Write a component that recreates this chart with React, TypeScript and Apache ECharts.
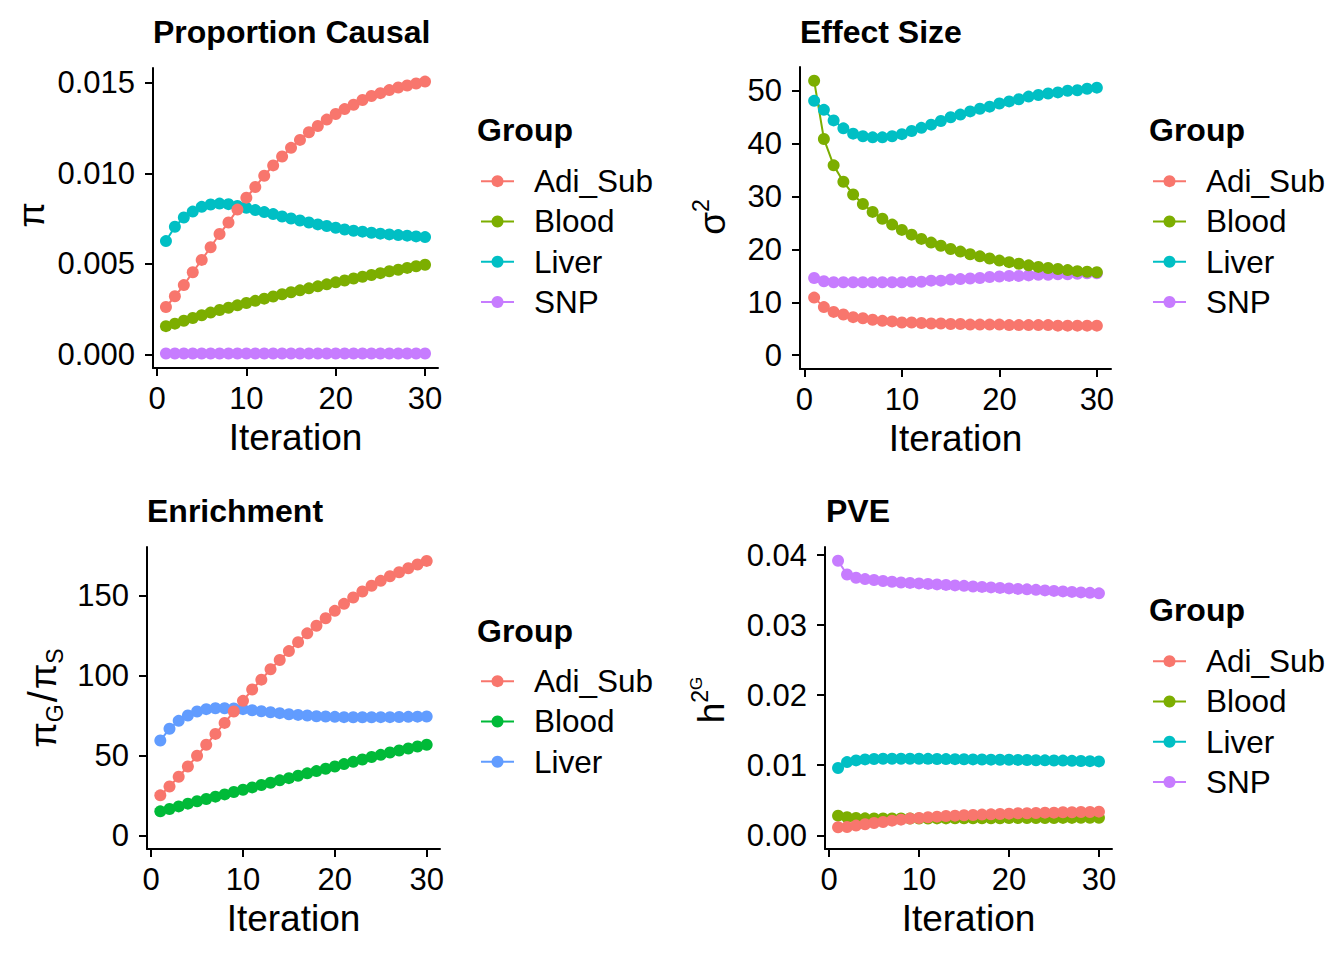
import React, { useEffect, useRef } from "react";
import * as echarts from "echarts";

const FONT = "'Liberation Sans', Arial, Helvetica, sans-serif";

// ---------- data ----------
const iterations = [1, 2, 3, 4, 5, 6, 7, 8, 9, 10, 11, 12, 13, 14, 15, 16, 17, 18, 19, 20, 21, 22, 23, 24, 25, 26, 27, 28, 29, 30];
const xTicks = [0, 10, 20, 30];

const groups4 = ["Adi_Sub", "Blood", "Liver", "SNP"];
const groups3 = ["Adi_Sub", "Blood", "Liver"];
const colors4 = ["#F8766D", "#7CAE00", "#00BFC4", "#C77CFF"];
const colors3 = ["#F8766D", "#00BA38", "#619CFF"];

// Proportion Causal (pi)
const pcTicks = [0, 0.005, 0.01, 0.015];
const pcAdi = [0.00262, 0.00321, 0.00383, 0.00454, 0.00522, 0.00592, 0.00665, 0.00729, 0.008, 0.00866, 0.00925, 0.00987, 0.01044, 0.01093, 0.01141, 0.01185, 0.01227, 0.01262, 0.01297, 0.01328, 0.01355, 0.01379, 0.01405, 0.01427, 0.01443, 0.0146, 0.01474, 0.01485, 0.01496, 0.01507];
const pcBlood = [0.00156, 0.0017, 0.00186, 0.00201, 0.00216, 0.00231, 0.00245, 0.00258, 0.00271, 0.00284, 0.00296, 0.00308, 0.0032, 0.00332, 0.00343, 0.00354, 0.00365, 0.00376, 0.00387, 0.00398, 0.00408, 0.00419, 0.00429, 0.00439, 0.00449, 0.00459, 0.00468, 0.00478, 0.00487, 0.00495];
const pcLiver = [0.00626, 0.00705, 0.00756, 0.00789, 0.00815, 0.00828, 0.00833, 0.0083, 0.0082, 0.0081, 0.00797, 0.00786, 0.00775, 0.00762, 0.00751, 0.0074, 0.00729, 0.00718, 0.00709, 0.007, 0.0069, 0.00683, 0.00678, 0.00672, 0.00667, 0.00663, 0.00659, 0.00656, 0.00652, 0.00648];
const pcSNP = [0.00005, 0.00005, 0.00005, 0.00005, 0.00005, 0.00005, 0.00005, 0.00005, 0.00005, 0.00005, 0.00005, 0.00005, 0.00005, 0.00005, 0.00005, 0.00005, 0.00005, 0.00005, 0.00005, 0.00005, 0.00005, 0.00005, 0.00005, 0.00005, 0.00005, 0.00005, 0.00005, 0.00005, 0.00005, 0.00005];

// Effect Size (sigma^2)
const esTicks = [0, 10, 20, 30, 40, 50];
const esAdi = [10.9, 9.1, 8.2, 7.7, 7.2, 7.0, 6.7, 6.5, 6.4, 6.2, 6.2, 6.1, 6.0, 6.0, 5.9, 5.9, 5.8, 5.8, 5.8, 5.8, 5.7, 5.7, 5.7, 5.7, 5.7, 5.6, 5.6, 5.6, 5.6, 5.6];
const esBlood = [51.9, 40.9, 35.9, 32.8, 30.4, 28.6, 27.1, 25.8, 24.7, 23.7, 22.8, 22.0, 21.3, 20.7, 20.1, 19.6, 19.1, 18.7, 18.3, 17.9, 17.6, 17.3, 17.0, 16.7, 16.5, 16.3, 16.1, 15.9, 15.8, 15.7];
const esLiver = [48.1, 46.4, 44.4, 42.9, 41.9, 41.4, 41.2, 41.2, 41.4, 41.8, 42.4, 43.0, 43.6, 44.3, 45.0, 45.5, 46.1, 46.6, 47.0, 47.6, 48.0, 48.4, 48.9, 49.2, 49.5, 49.7, 50.0, 50.1, 50.4, 50.6];
const esSNP = [14.6, 14.0, 13.8, 13.8, 13.8, 13.8, 13.8, 13.8, 13.8, 13.8, 13.9, 13.9, 14.1, 14.1, 14.3, 14.4, 14.5, 14.6, 14.8, 14.9, 15.0, 15.0, 15.1, 15.2, 15.2, 15.3, 15.3, 15.4, 15.5, 15.5];

// Enrichment (pi_G / pi_S)
const enTicks = [0, 50, 100, 150];
const enAdi = [25.0, 30.6, 36.7, 43.1, 49.8, 56.7, 63.5, 70.4, 77.5, 84.2, 91.3, 97.5, 104.0, 109.8, 115.4, 121.0, 126.5, 131.3, 136.0, 140.6, 145.0, 149.0, 152.7, 156.3, 159.4, 162.3, 164.8, 167.3, 169.6, 171.9];
const enBlood = [15.0, 16.5, 18.1, 19.8, 21.3, 22.7, 24.2, 25.6, 27.1, 28.5, 30.0, 31.5, 32.9, 34.4, 35.8, 37.3, 38.8, 40.2, 41.7, 43.1, 44.6, 46.0, 47.5, 49.0, 50.4, 51.9, 53.1, 54.4, 55.6, 56.7];
const enLiver = [59.4, 66.7, 71.7, 75.0, 77.5, 79.0, 79.6, 79.6, 79.4, 79.0, 78.3, 77.7, 77.1, 76.5, 75.8, 75.4, 75.0, 74.6, 74.4, 74.2, 74.0, 73.9, 73.9, 73.9, 74.0, 74.0, 74.1, 74.2, 74.3, 74.4];

// PVE (h^2G)
const pveTicks = [0, 0.01, 0.02, 0.03, 0.04];
const pveAdi = [0.00114, 0.00119, 0.00138, 0.00157, 0.00176, 0.0019, 0.00209, 0.00223, 0.00238, 0.00247, 0.00257, 0.00266, 0.00276, 0.0028, 0.00285, 0.0029, 0.00295, 0.00299, 0.00304, 0.00309, 0.00314, 0.00314, 0.00318, 0.00323, 0.00323, 0.00328, 0.00328, 0.00333, 0.00333, 0.00337];
const pveBlood = [0.0028, 0.00257, 0.00247, 0.00242, 0.0024, 0.0024, 0.0024, 0.0024, 0.0024, 0.0024, 0.0024, 0.00241, 0.00241, 0.00242, 0.00242, 0.00243, 0.00243, 0.00244, 0.00244, 0.00245, 0.00245, 0.00246, 0.00246, 0.00247, 0.00247, 0.00248, 0.00248, 0.00249, 0.00249, 0.0025];
const pveLiver = [0.0096, 0.01045, 0.01069, 0.01083, 0.0109, 0.01093, 0.01093, 0.01093, 0.01093, 0.01092, 0.01091, 0.0109, 0.01088, 0.01087, 0.01085, 0.01083, 0.01081, 0.0108, 0.01079, 0.01078, 0.01076, 0.01074, 0.01072, 0.0107, 0.01068, 0.01066, 0.01063, 0.01061, 0.01058, 0.01055];
const pveSNP = [0.0392, 0.03724, 0.03677, 0.03658, 0.03644, 0.0363, 0.0362, 0.0361, 0.03603, 0.03596, 0.03589, 0.03582, 0.03575, 0.03568, 0.03561, 0.03553, 0.03546, 0.03539, 0.03532, 0.03525, 0.03518, 0.03511, 0.03504, 0.03496, 0.03489, 0.03482, 0.03475, 0.03468, 0.03461, 0.03454];

// ---------- layout ----------
const panels = [
  {
    title: "Proportion Causal", titleX: 153, titleY: 32,
    grid: { left: 153, top: 68, width: 285, height: 300 },
    yMin: -0.00075, yMax: 0.01582, yTicks: pcTicks, dec: 3,
    groups: groups4, colors: colors4, values: [pcAdi, pcBlood, pcLiver, pcSNP],
    legendLeft: 480, legendTop: 161, groupX: 477, groupY: 130,
    yTitle: "{a|π}", yTitleX: 31, yTitleY: 215,
  },
  {
    title: "Effect Size", titleX: 800, titleY: 32,
    grid: { left: 800, top: 67, width: 311, height: 302 },
    yMin: -2.6, yMax: 54.5, yTicks: esTicks, dec: 0,
    groups: groups4, colors: colors4, values: [esAdi, esBlood, esLiver, esSNP],
    legendLeft: 1152, legendTop: 161, groupX: 1149, groupY: 130,
    yTitle: "{a|σ}{sup|2}", yTitleX: 712, yTitleY: 217,
  },
  {
    title: "Enrichment", titleX: 147, titleY: 511,
    grid: { left: 147, top: 547, width: 293, height: 302 },
    yMin: -8.6, yMax: 180.6, yTicks: enTicks, dec: 0,
    groups: groups3, colors: colors3, values: [enAdi, enBlood, enLiver],
    legendLeft: 480, legendTop: 661, groupX: 477, groupY: 631,
    yTitle: "{a|π}{sub|G}{sl|/}{a|π}{sub|S}", yTitleX: 43, yTitleY: 698,
  },
  {
    title: "PVE", titleX: 826, titleY: 511,
    grid: { left: 825, top: 547, width: 287, height: 302 },
    yMin: -0.00196, yMax: 0.04116, yTicks: pveTicks, dec: 2,
    groups: groups4, colors: colors4, values: [pveAdi, pveBlood, pveLiver, pveSNP],
    legendLeft: 1152, legendTop: 641, groupX: 1149, groupY: 610,
    yTitle: "{a|h}{sup|2}{sup2|G}", yTitleX: 711, yTitleY: 700,
  },
];

const richStyles = {
  a: { fontSize: 37, fontFamily: FONT, fill: "#000", color: "#000", lineHeight: 46 },
  sl: { fontSize: 40, fontFamily: FONT, fill: "#000", color: "#000", lineHeight: 46, padding: [0, 2, 0, 2] },
  sup: { fontSize: 23, fontFamily: FONT, fill: "#000", color: "#000", lineHeight: 23, verticalAlign: "top" },
  sup2: { fontSize: 17, fontFamily: FONT, fill: "#000", color: "#000", lineHeight: 17, verticalAlign: "top" },
  sub: { fontSize: 23, fontFamily: FONT, fill: "#000", color: "#000", lineHeight: 23, verticalAlign: "bottom" },
};

function buildOption() {
  const grids: any[] = [];
  const xAxes: any[] = [];
  const yAxes: any[] = [];
  const series: any[] = [];
  const legends: any[] = [];
  const graphics: any[] = [];

  panels.forEach((p, i) => {
    grids.push({ ...p.grid, containLabel: false });
    xAxes.push({
      type: "value", gridIndex: i, min: -0.45, max: 31.45,
      axisLine: { show: true, onZero: false, lineStyle: { color: "#000", width: 2 } },
      axisTick: { show: true, length: 8, lineStyle: { color: "#000", width: 2 }, customValues: xTicks },
      axisLabel: { customValues: xTicks, fontSize: 31, color: "#000", fontFamily: FONT, margin: 15 },
      splitLine: { show: false },
      name: "Iteration", nameLocation: "middle", nameGap: 51,
      nameTextStyle: { fontSize: 37, color: "#000", fontFamily: FONT },
    });
    yAxes.push({
      type: "value", gridIndex: i, min: p.yMin, max: p.yMax,
      axisLine: { show: true, onZero: false, lineStyle: { color: "#000", width: 2 } },
      axisTick: { show: true, length: 8, lineStyle: { color: "#000", width: 2 }, customValues: p.yTicks },
      axisLabel: {
        customValues: p.yTicks, fontSize: 31, color: "#000", fontFamily: FONT, margin: 18,
        formatter: (v: number) => v.toFixed(p.dec),
      },
      splitLine: { show: false },
    });
    const names = p.groups.map((g) => `${g}#${i}`);
    for (let k = p.groups.length - 1; k >= 0; k--) {
      series.push({
        type: "line", name: names[k], xAxisIndex: i, yAxisIndex: i,
        data: iterations.map((x, j) => [x, p.values[k][j]]),
        symbol: "circle", symbolSize: 12, showSymbol: true,
        lineStyle: { color: p.colors[k], width: 2 },
        itemStyle: { color: p.colors[k] },
        silent: true, emphasis: { disabled: true },
      });
    }
    legends.push({
      orient: "vertical", left: p.legendLeft, top: p.legendTop, padding: 0,
      itemWidth: 33, itemHeight: 15, itemGap: 0, selectedMode: false,
      data: names,
      formatter: (n: string) => n.split("#")[0],
      textStyle: { fontSize: 31.5, color: "#000", fontFamily: FONT, lineHeight: 40.3, padding: [0, 0, 0, 15] },
    });
    graphics.push({
      type: "text", x: p.titleX, y: p.titleY,
      style: {
        text: p.title, fontSize: 32, fontWeight: "bold", fontFamily: FONT, fill: "#000",
        align: "left", textAlign: "left", verticalAlign: "middle", textVerticalAlign: "middle",
      },
    });
    graphics.push({
      type: "text", x: p.groupX, y: p.groupY,
      style: {
        text: "Group", fontSize: 32, fontWeight: "bold", fontFamily: FONT, fill: "#000",
        align: "left", textAlign: "left", verticalAlign: "middle", textVerticalAlign: "middle",
      },
    });
    graphics.push({
      type: "text", x: p.yTitleX, y: p.yTitleY, rotation: Math.PI / 2,
      style: {
        text: p.yTitle, rich: richStyles, fontFamily: FONT, fill: "#000",
        align: "center", textAlign: "center", verticalAlign: "middle", textVerticalAlign: "middle",
      },
    });
  });

  return {
    animation: false,
    backgroundColor: "#fff",
    grid: grids,
    xAxis: xAxes,
    yAxis: yAxes,
    legend: legends,
    series,
    graphic: graphics,
  };
}

export default function App() {
  const ref = useRef<HTMLDivElement>(null);
  useEffect(() => {
    if (!ref.current) return;
    const chart = echarts.init(ref.current, undefined, { renderer: "svg" });
    chart.setOption(buildOption() as any);
    return () => chart.dispose();
  }, []);
  return (
    <div
      ref={ref}
      style={{ position: "fixed", left: 0, top: 0, width: 1344, height: 960, background: "#fff" }}
    />
  );
}
